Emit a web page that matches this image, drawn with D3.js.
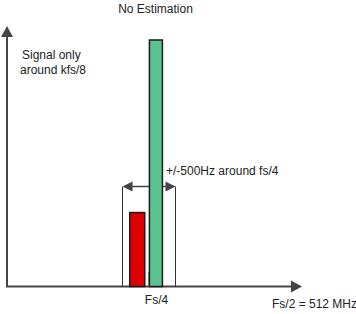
<!DOCTYPE html>
<html>
<head>
<meta charset="utf-8">
<script src="https://cdn.jsdelivr.net/npm/d3@7"></script>
<style>
  body { margin: 0; background: #fff; }
  text { font-family: "Liberation Sans", Arial, sans-serif; font-size: 12px; fill: #222; }
</style>
</head>
<body>
<svg id="chart"></svg>
<script>
// frequency axis runs 0 .. Fs/2 (MHz)
var freqMax = 512;
var barNames = ["outside", "signal"];
var barFreqs = [223, 255];        // MHz, bar centres
var barHeights = [0.3, 1.0];      // relative amplitude
var barColors = ["#dd0000", "#5cc28f"];
var bandRange = [197, 288];       // +/-500Hz window around fs/4
var markFreq = 241;
var titleText = "No Estimation";
var yLabel = ["Signal only", "around kfs/8"];
var bandLabel = "+/-500Hz around fs/4";
var tickLabel = { f: 256, text: "Fs/4" };
var endLabel = "Fs/2 = 512 MHz";

var width = 356, height = 314;
var svg = d3.select("#chart").attr("width", width).attr("height", height);

var x = d3.scaleLinear().domain([0, freqMax]).range([7, 306]);
var y = d3.scaleLinear().domain([0, 1]).range([286.5, 40]);

var axisColor = "#444";

// axes
svg.append("line")
    .attr("x1", x(0)).attr("y1", y(0))
    .attr("x2", x(0)).attr("y2", 36)
    .attr("stroke", axisColor).attr("stroke-width", 2);
svg.append("path")
    .attr("d", "M" + (x(0) - 6) + ",37L" + x(0) + ",26L" + (x(0) + 6) + ",37Z")
    .attr("fill", axisColor);
svg.append("line")
    .attr("x1", x(0) - 1).attr("y1", y(0))
    .attr("x2", 292).attr("y2", y(0))
    .attr("stroke", axisColor).attr("stroke-width", 2);
svg.append("path")
    .attr("d", "M291," + (y(0) - 6) + "L302," + y(0) + "L291," + (y(0) + 6) + "Z")
    .attr("fill", axisColor);

// band window
var bandTop = 186.5;
bandRange.forEach(function(f) {
  svg.append("line")
      .attr("x1", Math.round(x(f)) + 0.5).attr("x2", Math.round(x(f)) + 0.5)
      .attr("y1", bandTop).attr("y2", y(0))
      .attr("stroke", "#333").attr("stroke-width", 1);
});
var bx0 = Math.round(x(bandRange[0])) + 0.5, bx1 = Math.round(x(bandRange[1])) + 0.5;
svg.append("line")
    .attr("x1", bx0 + 8).attr("x2", bx1 - 8)
    .attr("y1", bandTop).attr("y2", bandTop)
    .attr("stroke", axisColor).attr("stroke-width", 1.5);
svg.append("path")
    .attr("d", "M" + bx0 + "," + bandTop + "L" + (bx0 + 10) + "," + (bandTop - 5) + "L" + (bx0 + 10) + "," + (bandTop + 5) + "Z" +
               "M" + bx1 + "," + bandTop + "L" + (bx1 - 10) + "," + (bandTop - 5) + "L" + (bx1 - 10) + "," + (bandTop + 5) + "Z")
    .attr("fill", axisColor);

svg.append("line")
    .attr("x1", Math.round(x(markFreq)) + 0.5).attr("x2", Math.round(x(markFreq)) + 0.5)
    .attr("y1", 272).attr("y2", y(0))
    .attr("stroke", "#999").attr("stroke-width", 1);

// bars
var barWidths = [15, 13];
svg.selectAll("rect.bar")
    .data(barNames)
  .enter().append("rect")
    .attr("class", "bar")
    .attr("x", function(d, i) { return x(barFreqs[i]) - barWidths[i] / 2; })
    .attr("y", function(d, i) { return y(barHeights[i]); })
    .attr("width", function(d, i) { return barWidths[i]; })
    .attr("height", function(d, i) { return y(0) - y(barHeights[i]); })
    .attr("fill", function(d, i) { return barColors[i]; })
    .attr("stroke", "#1a1a1a").attr("stroke-width", 1.5);

// texts
svg.append("text").attr("x", 155.5).attr("y", 13).attr("text-anchor", "middle").text(titleText);
svg.append("text").attr("x", 22).attr("y", 59).text(yLabel[0]);
svg.append("text").attr("x", 20).attr("y", 74).text(yLabel[1]);
svg.append("text").attr("x", 166).attr("y", 175).text(bandLabel);
svg.append("text").attr("x", x(tickLabel.f)).attr("y", 304).attr("text-anchor", "middle").text(tickLabel.text);
svg.append("text").attr("x", 272).attr("y", 308).text(endLabel);
</script>
</body>
</html>
